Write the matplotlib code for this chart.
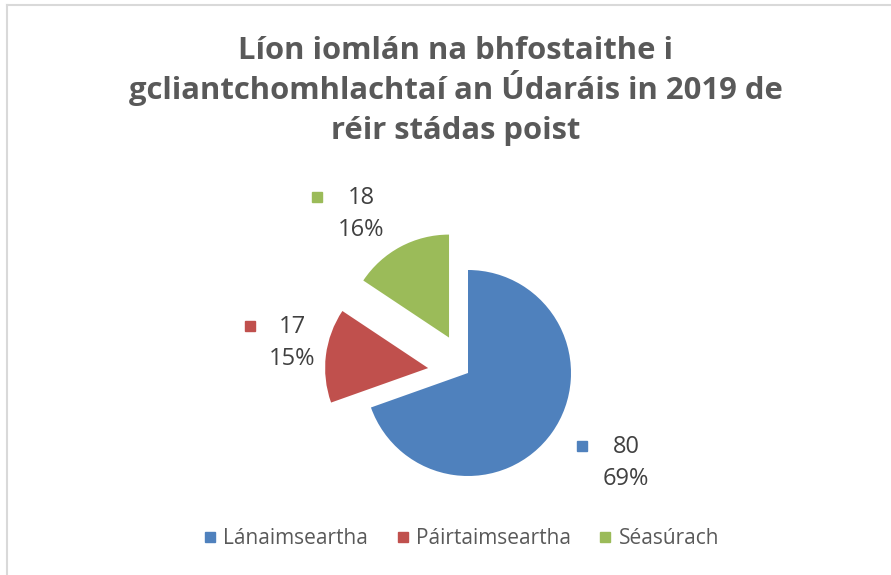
import matplotlib
matplotlib.use("Agg")
import matplotlib.pyplot as plt
from matplotlib.lines import Line2D

plt.rcParams['font.family'] = ['Open Sans', 'DejaVu Sans']

# data
categories = ['Lánaimseartha', 'Páirtaimseartha', 'Séasúrach']
values = [80, 17, 18]
pct_labels = ['69%', '15%', '16%']
colors = ['#4F81BD', '#C0504D', '#9BBB59']
explode = [0, 0.39, 0.39]

title_lines = ['Líon iomlán na bhfostaithe i',
               'gcliantchomhlachtaí an Údaráis in 2019 de',
               'réir stádas poist']

W, H = 891, 575
fig = plt.figure(figsize=(W / 100, H / 100), dpi=100)
fig.patch.set_facecolor('white')

def fx(x):
    return x / W

def fy(y):
    return 1 - y / H

# chart frame (left and top edge visible)
fig.add_artist(Line2D([fx(6.5), fx(6.5)], [fy(4.5), 0], color='#D9D9D9', lw=1.5))
fig.add_artist(Line2D([fx(6.5), 1], [fy(4.5), fy(4.5)], color='#D9D9D9', lw=1.5))

# pie axes: centre (468, 373) px, radius 103 px
cx, cy, r = 468, 373, 103
half = 135
ax = fig.add_axes([fx(cx - half), fy(cy + half), 2 * half / W, 2 * half / H])
lim = half / r
ax.pie(values, colors=colors, explode=explode, startangle=90, counterclock=False,
       radius=1, wedgeprops=dict(linewidth=0))
ax.set_xlim(-lim, lim)
ax.set_ylim(-lim, lim)
ax.set_aspect('equal')
ax.axis('off')

# data labels: marker square + value, percent below
label_pos = [(626, 447, 582), (292, 327, 250), (361, 198, 317)]
for (tx, ty, sx), v, p, c in zip(label_pos, values, pct_labels, colors):
    fig.text(fx(tx), fy(ty), str(v), ha='center', va='center', fontsize=17, color='#404040')
    fig.text(fx(tx), fy(ty + 32), p, ha='center', va='center', fontsize=17, color='#404040')
    fig.add_artist(Line2D([fx(sx)], [fy(ty - 1)], marker='s', markersize=7.5,
                          color=c, linestyle='none'))

for line, ty in zip(title_lines, [59, 99, 139]):
    fig.text(fx(456), fy(ty), line, ha='center', va='baseline', fontsize=22.3,
             fontweight='bold', color='#595959')

handles = [Line2D([], [], marker='s', markersize=7.5, color=c, linestyle='none')
           for c in colors]
fig.legend(handles, categories, loc='center', bbox_to_anchor=(fx(462), fy(539)),
           ncol=3, frameon=False, fontsize=15, labelcolor='#595959',
           handlelength=0.5, handletextpad=0.4, columnspacing=1.4)

fig.savefig('out.png', dpi=100, facecolor='white')
